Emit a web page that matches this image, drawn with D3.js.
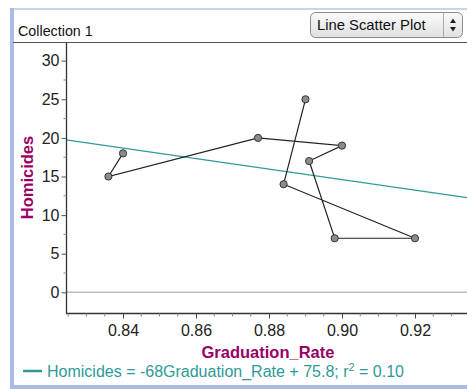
<!DOCTYPE html>
<html>
<head>
<meta charset="utf-8">
<script src="https://cdn.jsdelivr.net/npm/d3@7/dist/d3.min.js"></script>
<style>
  html, body { margin: 0; padding: 0; background: #fff; }
  svg { display: block; font-family: "Liberation Sans", Arial, sans-serif; }
</style>
</head>
<body>
<svg id="chart" width="467" height="389"></svg>
<script>
// Graduation rate vs. homicides, connected in recorded order
const graduationRate = [0.840, 0.836, 0.877, 0.900, 0.891, 0.898, 0.920, 0.884, 0.890];
const homicides      = [18, 15, 20, 19, 17, 7, 7, 14, 25];

// Least-squares line as reported in the legend
const fitSlope = [-68];
const fitIntercept = [75.8];
const fitR2 = ["0.10"];

const yTickValues = [0, 5, 10, 15, 20, 25, 30];
const xTickValues = [0.84, 0.86, 0.88, 0.90, 0.92];

const svg = d3.select("#chart");
const W = 467, H = 389;

const plot = { left: 66, top: 42, right: 467, bottom: 313 };

const x = d3.scaleLinear().domain([0.82438, 0.93425]).range([plot.left, plot.right]);
const y = d3.scaleLinear().domain([-2.68, 32.42]).range([plot.bottom, plot.top]);

const purple = "#990066";
const teal = "#2e9a98";
const font = "Liberation Sans, Arial, sans-serif";

// Panel frame
const frame = "#a9bde3";
svg.append("rect").attr("x", 10).attr("y", 8).attr("width", W - 10).attr("height", 2).attr("fill", "#c6d4ee");
svg.append("rect").attr("x", 10).attr("y", 8).attr("width", 4).attr("height", H - 8).attr("fill", frame);
svg.append("rect").attr("x", 10).attr("y", 385).attr("width", W - 10).attr("height", 4).attr("fill", frame);

// Header
svg.append("text").attr("x", 18).attr("y", 36).attr("font-size", 14.3).attr("fill", "#111").text("Collection 1");
svg.append("line").attr("x1", 13).attr("x2", W).attr("y1", 42.5).attr("y2", 42.5)
  .attr("stroke", "#555").attr("stroke-width", 1.2);

// Plot-type selector
const defs = svg.append("defs");
const grad = defs.append("linearGradient").attr("id", "btn").attr("x1", 0).attr("x2", 0).attr("y1", 0).attr("y2", 1);
grad.append("stop").attr("offset", "0%").attr("stop-color", "#fbfbfb");
grad.append("stop").attr("offset", "100%").attr("stop-color", "#e0e0e0");
svg.append("rect").attr("x", 310.5).attr("y", 12.5).attr("width", 152).attr("height", 25).attr("rx", 5)
  .attr("fill", "url(#btn)").attr("stroke", "#8a8a8a");
svg.append("text").attr("x", 317).attr("y", 30).attr("font-size", 14.8).attr("fill", "#111").text("Line Scatter Plot");
svg.append("line").attr("x1", 443.5).attr("x2", 443.5).attr("y1", 13).attr("y2", 37).attr("stroke", "#aaa");
svg.append("path").attr("d", "M450,23 L453,18.5 L456,23 Z").attr("fill", "#222");
svg.append("path").attr("d", "M450,27 L453,31.5 L456,27 Z").attr("fill", "#222");

// Clip for plot contents
defs.append("clipPath").attr("id", "plotClip").append("rect")
  .attr("x", plot.left).attr("y", plot.top).attr("width", plot.right - plot.left).attr("height", plot.bottom - plot.top);

const g = svg.append("g").attr("clip-path", "url(#plotClip)");

// Zero reference line
g.append("line").attr("x1", plot.left).attr("x2", plot.right)
  .attr("y1", y(0)).attr("y2", y(0)).attr("stroke", "#bdbdbd").attr("stroke-width", 1.5);

// Regression line
const fit = v => fitSlope[0] * v + fitIntercept[0];
const [xd0, xd1] = x.domain();
g.append("line")
  .attr("x1", x(xd0)).attr("y1", y(fit(xd0)))
  .attr("x2", x(xd1)).attr("y2", y(fit(xd1)))
  .attr("stroke", teal).attr("stroke-width", 1.3);

// Connected data
const pts = graduationRate.map((v, i) => [v, homicides[i]]);
g.append("path").datum(pts)
  .attr("d", d3.line().x(d => x(d[0])).y(d => y(d[1])))
  .attr("fill", "none").attr("stroke", "#222").attr("stroke-width", 1.2);
g.selectAll("circle.pt").data(pts).join("circle").attr("class", "pt")
  .attr("cx", d => x(d[0])).attr("cy", d => y(d[1])).attr("r", 3.6)
  .attr("fill", "#8c8c8c").attr("stroke", "#333").attr("stroke-width", 1);

// Y axis
const yAxis = svg.append("g").attr("transform", `translate(${plot.left + 0.5},0)`)
  .call(d3.axisLeft(y).tickValues(yTickValues).tickSize(5).tickPadding(2).tickFormat(d3.format("d")));
yAxis.select(".domain").attr("d", `M0,${plot.top}V${plot.bottom}`).attr("stroke", "#333").attr("stroke-width", 1.3);
yAxis.selectAll(".tick line").attr("stroke", "#555");
yAxis.selectAll(".tick text").attr("font-size", 16).attr("fill", "#222").attr("font-family", font);
yAxis.selectAll(".minor").data(d3.range(2.5, 32, 5)).join("line").attr("class", "minor")
  .attr("x1", -3).attr("x2", 0).attr("y1", d => y(d)).attr("y2", d => y(d)).attr("stroke", "#888");

// X axis
const xAxis = svg.append("g").attr("transform", `translate(0,${plot.bottom + 0.5})`)
  .call(d3.axisBottom(x).tickValues(xTickValues).tickSize(5).tickPadding(6).tickFormat(d3.format(".2f")));
xAxis.select(".domain").attr("d", `M${plot.left},0H${plot.right}`).attr("stroke", "#333").attr("stroke-width", 1.3);
xAxis.selectAll(".tick line").attr("stroke", "#444");
xAxis.selectAll(".tick text").attr("font-size", 16).attr("fill", "#222").attr("font-family", font);
const minorX = d3.range(0.825, 0.935, 0.005).filter(v => !xTickValues.some(t => Math.abs(t - v) < 1e-6));
xAxis.selectAll(".minor").data(minorX).join("line").attr("class", "minor")
  .attr("x1", d => x(d)).attr("x2", d => x(d)).attr("y1", 0).attr("y2", 3).attr("stroke", "#888");

// Axis titles
svg.append("text").attr("transform", `translate(33,${(plot.top + plot.bottom) / 2}) rotate(-90)`)
  .attr("text-anchor", "middle").attr("font-size", 16.5).attr("font-weight", "bold").attr("fill", purple)
  .text("Homicides");
svg.append("text").attr("x", 268).attr("y", 358).attr("text-anchor", "middle")
  .attr("font-size", 16.5).attr("font-weight", "bold").attr("fill", purple).text("Graduation_Rate");

// Fit legend
svg.append("line").attr("x1", 23).attr("x2", 42).attr("y1", 371).attr("y2", 371).attr("stroke", teal).attr("stroke-width", 2.5);
const leg = svg.append("text").attr("x", 47).attr("y", 377).attr("font-size", 16).attr("fill", teal);
leg.append("tspan").text(`Homicides = ${fitSlope[0]}Graduation_Rate + ${fitIntercept[0]}; r`);
leg.append("tspan").attr("dy", -6).attr("font-size", 11).text("2");
leg.append("tspan").attr("dy", 6).text(` = ${fitR2[0]}`);
</script>
</body>
</html>
